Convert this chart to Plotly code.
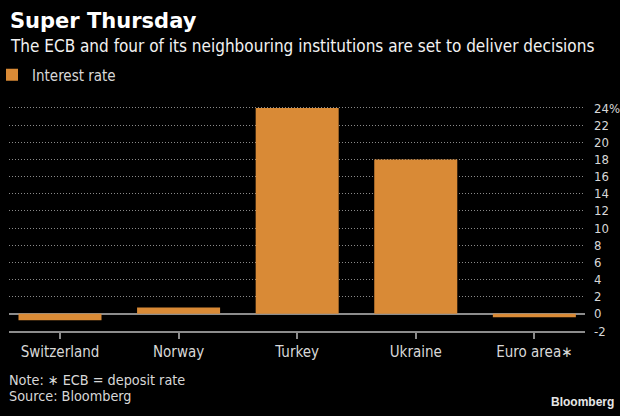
import plotly.graph_objects as go

countries = ["Switzerland", "Norway", "Turkey", "Ukraine", "Euro area∗"]
rates = [-0.75, 0.75, 24.0, 18.0, -0.4]
tick_vals = [-2, 0, 2, 4, 6, 8, 10, 12, 14, 16, 18, 20, 22, 24]
tick_text = [str(v) for v in tick_vals[:-1]] + ["24%"]

FONT = "DejaVu Sans Condensed, DejaVu Sans, sans-serif"
BAR = "#d98a36"
W, H = 620, 416
# plot area in window pixels: x 9..585, y 100..330.7
L = 9
R = W - 585
T = 100
B = H - 330.7

def py(p):
    return (H - B - p) / (H - B - T)

def px(p):
    return (p - L) / (W - L - R)

fig = go.Figure()
fig.add_trace(go.Bar(
    x=list(range(len(countries))), y=rates, name="Interest rate",
    marker=dict(color=BAR, line=dict(width=0)), width=0.7,
))

fig.update_layout(
    width=W, height=H,
    paper_bgcolor="black", plot_bgcolor="black",
    margin=dict(l=L, r=R, t=T, b=B, pad=0, autoexpand=False),
    font=dict(family=FONT, color="#d8d8d8", size=15),
    showlegend=True,
    legend=dict(x=px(-8), y=py(75), xanchor="left", yanchor="middle",
                bgcolor="rgba(0,0,0,0)", font=dict(size=15, color="#d8d8d8", family=FONT),
                orientation="h", itemwidth=30, borderwidth=0),
    xaxis=dict(
        range=[-0.43, 4.427], tickvals=list(range(len(countries))), ticktext=countries,
        showline=True, linecolor="#8c8c8c", linewidth=2,
        ticks="outside", ticklen=6, tickcolor="#8c8c8c", tickwidth=1.5,
        showgrid=False, zeroline=False, fixedrange=True,
        tickfont=dict(size=15, color="#d8d8d8", family=FONT),
    ),
    yaxis=dict(
        range=[-2, 24.93], side="right", tickvals=tick_vals, ticktext=tick_text,
        showgrid=True, gridcolor="#8a8a8a", griddash="1px,2px", gridwidth=1,
        zeroline=True, zerolinecolor="#8c8c8c", zerolinewidth=2,
        ticks="", ticklabelstandoff=8, showline=False, fixedrange=True,
        tickfont=dict(size=13, color="#d8d8d8", family=FONT),
    ),
    annotations=[
        dict(text="<b>Super Thursday</b>", x=px(8), y=py(21), xref="paper", yref="paper",
             xanchor="left", yanchor="middle", showarrow=False,
             font=dict(size=21, color="white", family="DejaVu Sans, sans-serif")),
        dict(text="The ECB and four of its neighbouring institutions are set to deliver decisions",
             x=px(8), y=py(46), xref="paper", yref="paper",
             xanchor="left", yanchor="middle", showarrow=False,
             font=dict(size=17, color="#f2f2f2", family=FONT)),
        dict(text="Note: ∗ ECB = deposit rate",
             x=px(7), y=py(380), xref="paper", yref="paper", align="left",
             xanchor="left", yanchor="middle", showarrow=False,
             font=dict(size=14.3, color="#d8d8d8", family=FONT)),
        dict(text="Source: Bloomberg",
             x=px(7), y=py(396), xref="paper", yref="paper", align="left",
             xanchor="left", yanchor="middle", showarrow=False,
             font=dict(size=14.3, color="#d8d8d8", family=FONT)),
        dict(text="<b>Bloomberg</b>", x=px(616), y=py(402), xref="paper", yref="paper",
             xanchor="right", yanchor="middle", showarrow=False,
             font=dict(size=12, color="#e6e6e6", family="Liberation Sans, Arial, sans-serif")),
    ],
)

fig.write_html("out.html", config={"displayModeBar": False},
               post_script="document.body.style.margin='0';")
